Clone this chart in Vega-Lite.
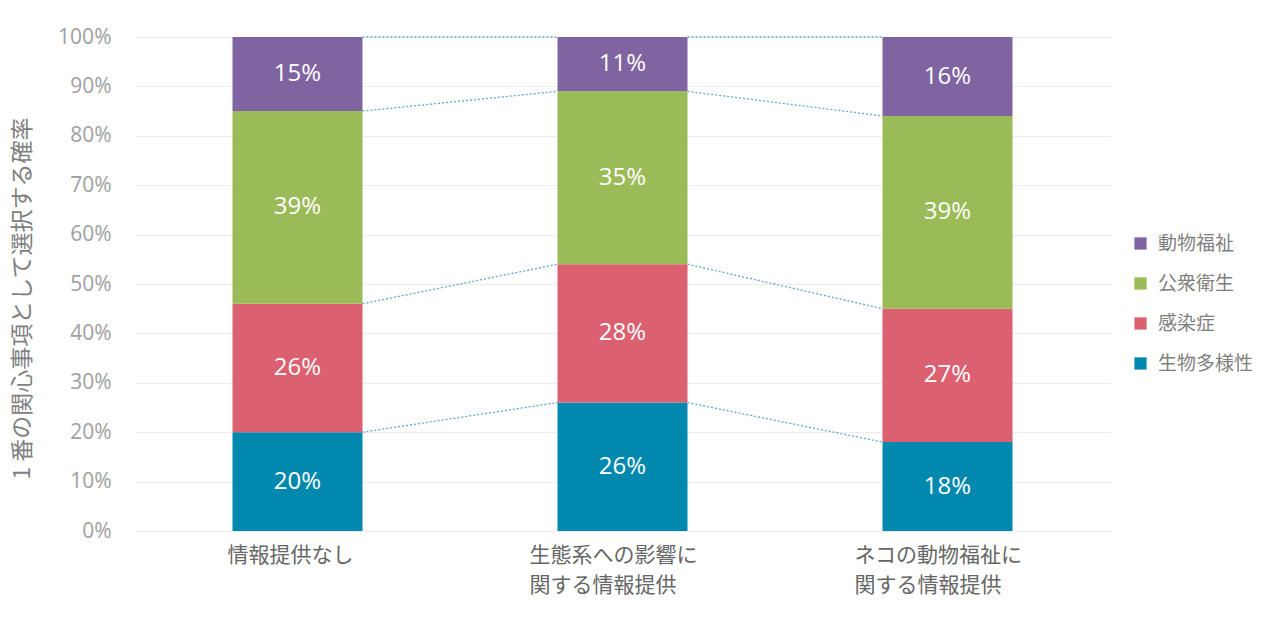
{
  "$schema": "https://vega.github.io/schema/vega-lite/v6.json",
  "width": 975,
  "height": 494,
  "autosize": {"type": "none"},
  "padding": {"left": 135, "top": 37, "right": 166, "bottom": 87},
  "background": "white",
  "config": {
    "view": {"stroke": null},
    "font": "Open Sans, Noto Sans CJK JP"
  },
  "datasets": {
    "shares": [
      {"condition": "情報提供なし", "item": "生物多様性", "share": 0.20},
      {"condition": "情報提供なし", "item": "感染症", "share": 0.26},
      {"condition": "情報提供なし", "item": "公衆衛生", "share": 0.39},
      {"condition": "情報提供なし", "item": "動物福祉", "share": 0.15},
      {"condition": "生態系への影響に\n関する情報提供", "item": "生物多様性", "share": 0.26},
      {"condition": "生態系への影響に\n関する情報提供", "item": "感染症", "share": 0.28},
      {"condition": "生態系への影響に\n関する情報提供", "item": "公衆衛生", "share": 0.35},
      {"condition": "生態系への影響に\n関する情報提供", "item": "動物福祉", "share": 0.11},
      {"condition": "ネコの動物福祉に\n関する情報提供", "item": "生物多様性", "share": 0.18},
      {"condition": "ネコの動物福祉に\n関する情報提供", "item": "感染症", "share": 0.27},
      {"condition": "ネコの動物福祉に\n関する情報提供", "item": "公衆衛生", "share": 0.39},
      {"condition": "ネコの動物福祉に\n関する情報提供", "item": "動物福祉", "share": 0.16}
    ],
    "links": [
      {"from": "情報提供なし", "to": "生態系への影響に\n関する情報提供", "start": 0.20, "end": 0.26},
      {"from": "情報提供なし", "to": "生態系への影響に\n関する情報提供", "start": 0.46, "end": 0.54},
      {"from": "情報提供なし", "to": "生態系への影響に\n関する情報提供", "start": 0.85, "end": 0.89},
      {"from": "情報提供なし", "to": "生態系への影響に\n関する情報提供", "start": 1.0, "end": 1.0},
      {"from": "生態系への影響に\n関する情報提供", "to": "ネコの動物福祉に\n関する情報提供", "start": 0.26, "end": 0.18},
      {"from": "生態系への影響に\n関する情報提供", "to": "ネコの動物福祉に\n関する情報提供", "start": 0.54, "end": 0.45},
      {"from": "生態系への影響に\n関する情報提供", "to": "ネコの動物福祉に\n関する情報提供", "start": 0.89, "end": 0.84},
      {"from": "生態系への影響に\n関する情報提供", "to": "ネコの動物福祉に\n関する情報提供", "start": 1.0, "end": 1.0}
    ]
  },
  "layer": [
    {
      "data": {"name": "shares"},
      "transform": [
        {"calculate": "indexof(['生物多様性','感染症','公衆衛生','動物福祉'], datum.item)", "as": "rank"}
      ],
      "encoding": {
        "x": {
          "field": "condition",
          "type": "nominal",
          "sort": null,
          "scale": {
            "domain": ["情報提供なし", "生態系への影響に\n関する情報提供", "ネコの動物福祉に\n関する情報提供"],
            "paddingInner": 0.6,
            "paddingOuter": 0.3
          },
          "axis": {
            "title": null,
            "labelAngle": 0,
            "labelExpr": "split(datum.label, '\\n')",
            "labelAlign": "left",
            "labelBaseline": "top",
            "labelOffset": {"condition": {"test": "datum.value == '情報提供なし'", "value": -70}, "value": -93},
            "labelPadding": 13,
            "labelLineHeight": 30,
            "labelFontSize": 21,
            "labelColor": "#666666",
            "labelFont": "Noto Sans CJK JP",
            "ticks": false,
            "domain": false,
            "grid": false
          }
        },
        "y": {
          "field": "share",
          "type": "quantitative",
          "stack": "zero",
          "scale": {"domain": [0, 1]},
          "axis": {
            "title": "1 番の関心事項として選択する確率",
            "titleFont": "Noto Sans CJK JP",
            "titleFontSize": 23,
            "titleFontWeight": "normal",
            "titleColor": "#7f7f7f",
            "titleAngle": 270,
            "titleAlign": "center",
            "titleBaseline": "middle",
            "titleX": -113,
            "titleY": 261,
            "values": [0, 0.1, 0.2, 0.3, 0.4, 0.5, 0.6, 0.7, 0.8, 0.9, 1.0],
            "format": ".0%",
            "labelFontSize": 21,
            "labelColor": "#a0a0a0",
            "labelPadding": 24,
            "ticks": false,
            "tickSize": 0,
            "domain": false,
            "grid": true,
            "gridColor": "#ececec",
            "gridWidth": 1
          }
        },
        "order": {"field": "rank", "type": "quantitative", "sort": "ascending"}
      },
      "layer": [
        {
          "mark": {"type": "bar"},
          "encoding": {
            "color": {
              "field": "item",
              "type": "nominal",
              "scale": {
                "domain": ["動物福祉", "公衆衛生", "感染症", "生物多様性"],
                "range": ["#8064a2", "#9bbb59", "#db6070", "#0088ae"]
              },
              "legend": {
                "title": null,
                "orient": "none",
                "legendX": 996,
                "legendY": 197,
                "symbolType": "square",
                "symbolSize": 150,
                "symbolStrokeWidth": 0,
                "labelFont": "Noto Sans CJK JP",
                "labelFontSize": 19,
                "labelColor": "#7f7f7f",
                "rowPadding": 20,
                "labelOffset": 8
              }
            }
          }
        },
        {
          "mark": {"type": "text", "color": "white", "fontSize": 24, "align": "center", "baseline": "middle"},
          "encoding": {
            "y": {"field": "share", "type": "quantitative", "stack": "zero", "bandPosition": 0.5},
            "detail": {"field": "item", "type": "nominal"},
            "text": {"field": "share", "type": "quantitative", "format": ".0%"}
          }
        }
      ]
    },
    {
      "data": {"name": "links"},
      "mark": {"type": "rule", "color": "#5aaacc", "strokeWidth": 1.3, "strokeDash": [2, 2]},
      "encoding": {
        "x": {"field": "from", "type": "nominal", "bandPosition": 1},
        "x2": {"field": "to", "bandPosition": 0},
        "y": {"field": "start", "type": "quantitative"},
        "y2": {"field": "end"}
      }
    }
  ]
}
